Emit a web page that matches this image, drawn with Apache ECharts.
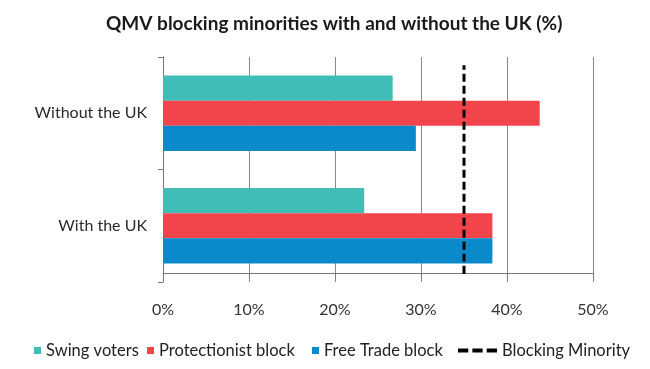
<!DOCTYPE html>
<html>
<head>
<meta charset="utf-8">
<script src="https://cdn.jsdelivr.net/npm/echarts@6/dist/echarts.min.js"></script>
<style>html,body{margin:0;padding:0;background:#fff;}#c{width:650px;height:369px;}</style>
</head>
<body>
<div id="c"></div>
<script>
const categories = ['With the UK', 'Without the UK'];
const swingVoters = [23.4, 26.7];
const protectionist = [38.3, 43.8];
const freeTrade = [38.3, 29.4];
const blockingMinority = 35;
const xTicks = [0, 10, 20, 30, 40, 50];

const FONT = 'Lato';
const legendText = {fontFamily: FONT, fontSize: 16.5, color: '#222'};
function sqLegend(name, left) {
  return {data: [name], left: left, top: 342, icon: 'rect', itemWidth: 7, itemHeight: 7,
          textStyle: legendText, padding: 0};
}
const chart = echarts.init(document.getElementById('c'), null, {renderer: 'canvas'});
chart.setOption({
  animation: false,
  backgroundColor: '#fff',
  title: {
    text: 'QMV blocking minorities with and without the UK (%)',
    left: 106, top: 14, padding: 0,
    textStyle: {fontFamily: FONT, fontWeight: 'bold', fontSize: 19, color: '#1a1a1a'}
  },
  legend: [
    sqLegend('Swing voters', 34),
    sqLegend('Protectionist block', 147),
    sqLegend('Free Trade block', 312),
    {data: ['Blocking Minority'], left: 458, top: 342, padding: 0,
     icon: 'path://M0,0h10v4h-10zM14,0h10v4h-10zM28,0h10v4h-10z',
     itemWidth: 39, itemHeight: 5, textStyle: legendText}
  ],
  grid: [{left: 163, right: 57, top: 57, bottom: 87, containLabel: false}],
  xAxis: [{
    type: 'value', min: xTicks[0], max: xTicks[xTicks.length - 1], interval: 10,
    axisLabel: {formatter: v => v + '%', fontFamily: FONT, fontSize: 16, color: '#333', margin: 20},
    axisLine: {show: true, lineStyle: {color: '#777', width: 1}},
    axisTick: {show: true, length: 5, lineStyle: {color: '#777'}},
    splitLine: {show: true, lineStyle: {color: '#888', width: 1}}
  }, {
    type: 'value', min: xTicks[0], max: xTicks[xTicks.length - 1], show: false
  }],
  yAxis: [{
    type: 'category', data: categories,
    axisLabel: {fontFamily: FONT, fontSize: 16, color: '#2a2a2a', margin: 16},
    axisLine: {show: true, lineStyle: {color: '#777', width: 1}},
    axisTick: {show: true, length: 5, lineStyle: {color: '#777'}},
    splitLine: {show: false}
  }, {
    type: 'value', min: -0.04, max: 1.04, show: false
  }],
  series: [
    {name: 'Swing voters', type: 'bar', data: swingVoters, itemStyle: {color: '#3fbdb6'}, barGap: '0%', barCategoryGap: '33%'},
    {name: 'Protectionist block', type: 'bar', data: protectionist, itemStyle: {color: '#f2454b'}},
    {name: 'Free Trade block', type: 'bar', data: freeTrade, itemStyle: {color: '#0a89cb'}},
    {name: 'Blocking Minority', type: 'line', xAxisIndex: 1, yAxisIndex: 1,
     data: [[blockingMinority, 0], [blockingMinority, 1]],
     symbol: 'none', itemStyle: {color: '#000'},
     lineStyle: {color: '#000', width: 3, type: [8, 4]}, z: 5}
  ]
});
</script>
</body>
</html>
